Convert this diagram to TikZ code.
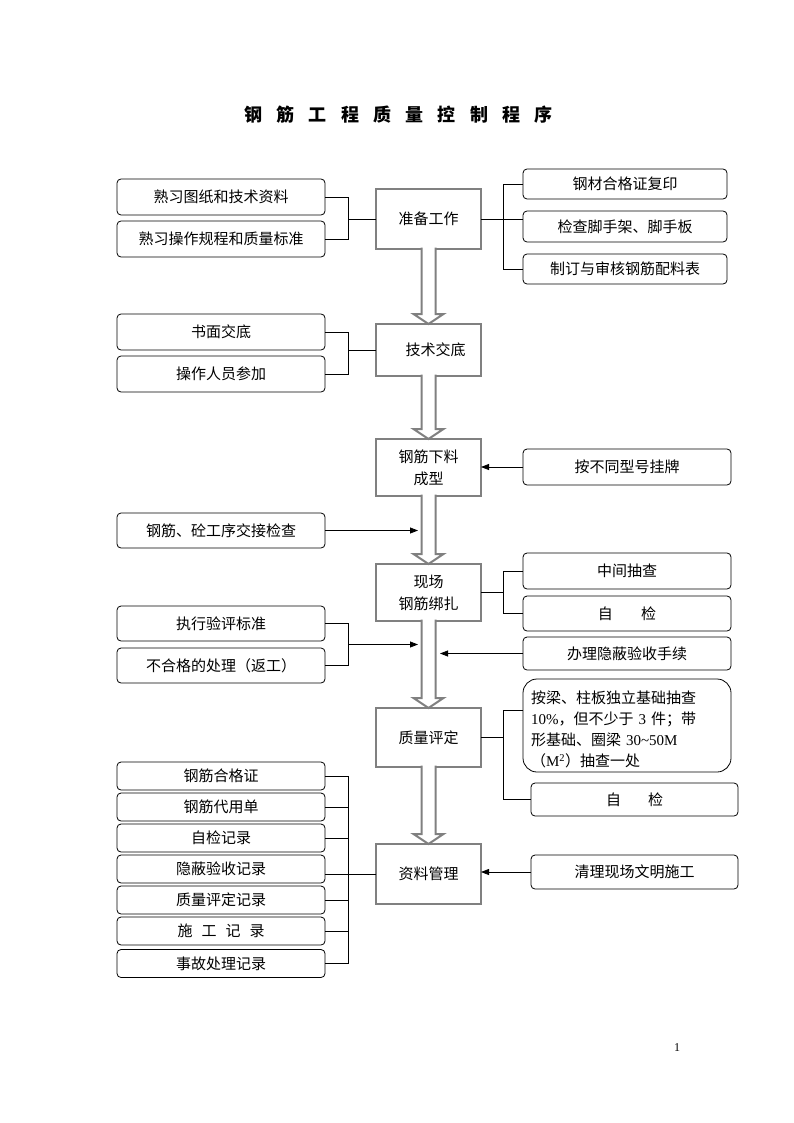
\documentclass[tikz,border=0pt]{standalone}
\usepackage{fontspec}
\setmainfont{Liberation Serif}
\newfontfamily\cjk{Noto Sans CJK SC}
\usetikzlibrary{arrows.meta,calc}
\definecolor{bord}{HTML}{808080}
\tikzset{
 lbox/.style={draw, line width=0.8pt, rounded corners=4pt, minimum width=208pt, minimum height=36pt, inner sep=0pt, outer sep=0pt, font=\cjk\fontsize{15}{18}\selectfont},
 cbox/.style={draw=bord, line width=2.5pt, minimum width=105pt, inner sep=0pt, outer sep=0pt, align=center, font=\cjk\fontsize{15}{22}\selectfont},
 conn/.style={line width=0.8pt},
 arr/.style={conn, -{Triangle[length=8pt,width=6pt]}},
 barrow/.style={draw=bord, line width=2pt, line join=miter},
}
\newcommand\blockarrow[2]{%
 \fill[white] ([xshift=-7pt,yshift=1.5pt]#1.south) -- ([xshift=-7pt,yshift=10pt]#2.north) -- ([xshift=-15pt,yshift=10pt]#2.north) -- (#2.north) -- ([xshift=15pt,yshift=10pt]#2.north) -- ([xshift=7pt,yshift=10pt]#2.north) -- ([xshift=7pt,yshift=1.5pt]#1.south) -- cycle;
 \draw[barrow] ([xshift=-7pt,yshift=1.5pt]#1.south) -- ([xshift=-7pt,yshift=10pt]#2.north) -- ([xshift=-15pt,yshift=10pt]#2.north) -- (#2.north) -- ([xshift=15pt,yshift=10pt]#2.north) -- ([xshift=7pt,yshift=10pt]#2.north) -- ([xshift=7pt,yshift=1.5pt]#1.south);}
\newcommand\tsp{\hspace{14.2pt}}
\begin{document}
\begin{tikzpicture}[x=1pt,y=-1pt]
\useasboundingbox (0,0) rectangle (794,1123);
% title and page number
\node[font=\cjk\bfseries\fontsize{18}{18}\selectfont] (title) at (398.5,115) {钢\tsp 筋\tsp 工\tsp 程\tsp 质\tsp 量\tsp 控\tsp 制\tsp 程\tsp 序};
\node[font=\fontsize{12}{12}\selectfont] (pg) at (677,1048) {1};
% centre column
\node[cbox, minimum height=60pt] (c1) at (428.5,219) {准备工作};
\node[cbox, minimum height=52pt] (c2) at (428.5,350) {\hspace*{14pt}技术交底};
\node[cbox, minimum height=57pt] (c3) at (428.5,467.5) {钢筋下料\\成型};
\node[cbox, minimum height=57pt] (c4) at (428.5,592.5) {现场\\钢筋绑扎};
\node[cbox, minimum height=59pt] (c5) at (428.5,737.5) {质量评定};
\node[cbox, minimum height=60pt] (c6) at (428.5,874) {资料管理};
% left boxes
\node[lbox] (a1) at (221,197) {熟习图纸和技术资料};
\node[lbox] (a2) at (221,239) {熟习操作规程和质量标准};
\node[lbox] (a3) at (221,332) {书面交底};
\node[lbox] (a4) at (221,374) {操作人员参加};
\node[lbox, minimum height=35pt] (d1) at (221,530.5) {钢筋、砼工序交接检查};
\node[lbox, minimum height=35pt] (e1) at (221,623.5) {执行验评标准};
\node[lbox, minimum height=35pt] (e2) at (221,665.5) {不合格的处理（返工）};
\node[lbox, minimum height=28pt] (f1) at (221,776) {钢筋合格证};
\node[lbox, minimum height=28pt] (f2) at (221,807) {钢筋代用单};
\node[lbox, minimum height=28pt] (f3) at (221,838) {自检记录};
\node[lbox, minimum height=28pt] (f4) at (221,869) {隐蔽验收记录};
\node[lbox, minimum height=28pt] (f5) at (221,900) {质量评定记录};
\node[lbox, minimum height=28pt] (f6) at (221,931) {施\hspace{0.6em}工\hspace{0.6em}记\hspace{0.6em}录};
\node[lbox, minimum height=28pt] (f7) at (221,963.5) {事故处理记录};
% right boxes
\node[lbox, minimum width=204pt, minimum height=30pt] (b1) at (625,184) {钢材合格证复印};
\node[lbox, minimum width=204pt, minimum height=31pt] (b2) at (625,226.5) {检查脚手架、脚手板};
\node[lbox, minimum width=204pt, minimum height=30pt] (b3) at (625,269) {制订与审核钢筋配料表};
\node[lbox] (k) at (627,467) {按不同型号挂牌};
\node[lbox] (h1) at (627,571) {中间抽查};
\node[lbox, minimum height=35pt] (h2) at (627,613.5) {自\hspace{1.9em}检};
\node[lbox, minimum height=33pt] (m) at (627,653.5) {办理隐蔽验收手续};
\node[lbox, rounded corners=14pt, minimum height=93pt] (q) at (627,725.5) {};
\node[align=left, text width=192pt, inner sep=0pt, font=\cjk\fontsize{15}{21}\selectfont] (qt) at ([yshift=-4pt]q.center) {按梁、柱板独立基础抽查\\{\rmfamily 10\%}，但不少于 {\rmfamily 3} 件；带\\形基础、圈梁 {\rmfamily 30\textasciitilde 50M}\\（{\rmfamily M\textsuperscript{2}}）抽查一处};
\node[lbox, minimum width=207pt, minimum height=33pt] (g2) at (634.5,799.5) {自\hspace{1.8em}检};
\node[lbox, minimum width=207pt, minimum height=34pt] (n) at (634.5,872) {清理现场文明施工};
% helper columns
\coordinate (L) at (348,0);
\coordinate (R) at (503,0);
\coordinate (sL) at (418,0);
\coordinate (sR) at (440,0);
% connectors
\draw[conn] (a1.east) -- (a1.east -| L) -- (a2.east -| L) -- (a2.east);
\draw[conn] (c1.west -| L) -- (c1.west);
\draw[conn] (a3.east) -- (a3.east -| L) -- (a4.east -| L) -- (a4.east);
\draw[conn] (c2.west -| L) -- (c2.west);
\draw[conn] (b1.west) -- (b1.west -| R) -- (b3.west -| R) -- (b3.west);
\draw[conn] (c1.east) -- (c1.east -| b2.west);
\draw[arr] (k.west) -- (k.west -| c3.east);
\draw[arr] (d1.east) -- (d1.east -| sL);
\draw[conn] (h1.west) -- (h1.west -| R) -- (h2.west -| R) -- (h2.west);
\draw[conn] (c4.east) -- (c4.east -| R);
\draw[conn] (e1.east) -- (e1.east -| L) -- (e2.east -| L) -- (e2.east);
\draw[arr] ($(e1.east -| L)!0.5!(e2.east -| L)$) -- ($(e1.east -| sL)!0.5!(e2.east -| sL)$);
\draw[arr] (m.west) -- (m.west -| sR);
\draw[conn] ([yshift=15pt]q.west) -- ([yshift=15pt]q.west -| R) -- (g2.west -| R) -- (g2.west);
\draw[conn] (c5.east) -- (c5.east -| R);
\draw[arr] (n.west) -- (n.west -| c6.east);
\draw[conn] (f1.east) -- (f1.east -| L) -- (f7.east -| L) -- (f7.east);
\foreach \i in {2,3,5,6} \draw[conn] (f\i.east) -- (f\i.east -| L);
\draw[conn] (c6.west) -- (c6.west -| f4.east);
% block arrows
\blockarrow{c1}{c2}
\blockarrow{c2}{c3}
\blockarrow{c3}{c4}
\blockarrow{c4}{c5}
\blockarrow{c5}{c6}
\end{tikzpicture}
\end{document}
